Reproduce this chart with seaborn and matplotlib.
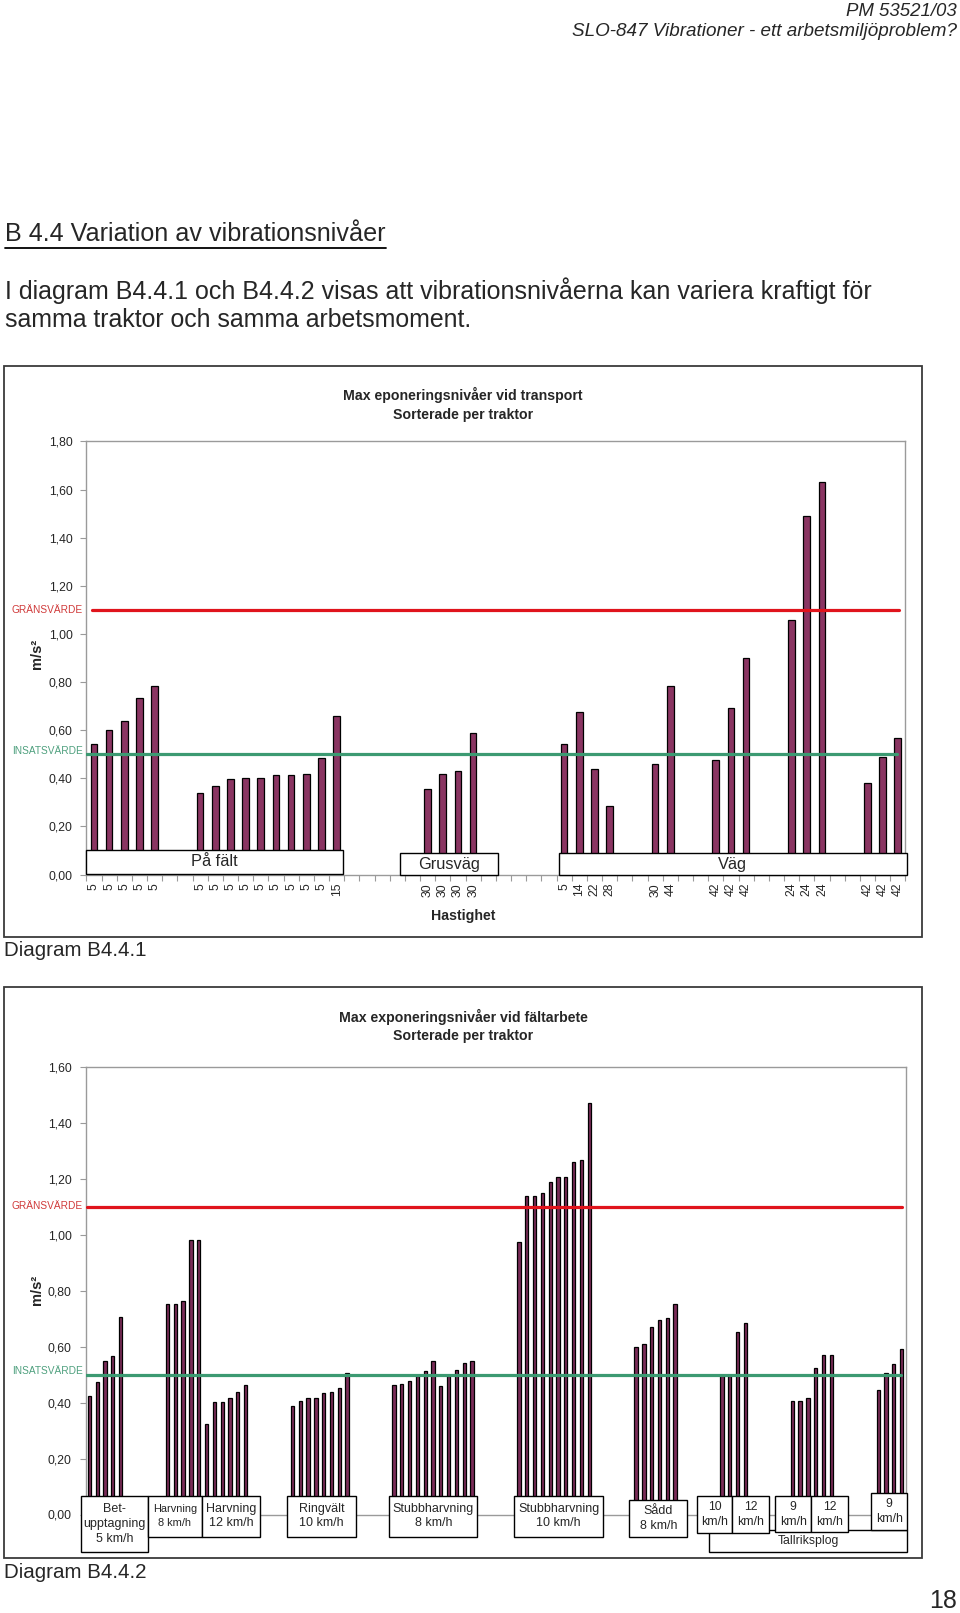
import numpy as np
import pandas as pd
import matplotlib
matplotlib.use("Agg")
import matplotlib.pyplot as plt
import seaborn as sns
from matplotlib.patches import Rectangle
from matplotlib.lines import Line2D
from matplotlib.ticker import FuncFormatter, FixedLocator
from matplotlib import font_manager

# ---------------- data ----------------
# Diagram B4.4.1 (transport)
c1_speeds = [5, 5, 5, 5, 5,
             5, 5, 5, 5, 5, 5, 5, 5, 5, 15,
             30, 30, 30, 30,
             5, 14, 22, 28,
             30, 44,
             42, 42, 42,
             24, 24, 24,
             42, 42, 42]
c1_values = [0.544, 0.602, 0.638, 0.735, 0.784,
             0.338, 0.368, 0.399, 0.403, 0.403, 0.412, 0.412, 0.418, 0.485, 0.661,
             0.356, 0.418, 0.431, 0.589,
             0.544, 0.675, 0.440, 0.286,
             0.460, 0.784,
             0.476, 0.692, 0.900,
             1.059, 1.490, 1.630,
             0.380, 0.489, 0.569]
c1_group_sizes = [5, 10, 4, 4, 2, 3, 3, 3]
c1_gaps_before = [0, 2, 5, 5, 2, 2, 2, 2]
c1_yticks = [0.0, 0.2, 0.4, 0.6, 0.8, 1.0, 1.2, 1.4, 1.6, 1.8]

# Diagram B4.4.2 (field work)
c2_values = [0.425, 0.474, 0.549, 0.568, 0.706,
             0.752, 0.752, 0.763, 0.981, 0.981,
             0.323, 0.402, 0.402, 0.418, 0.439, 0.462,
             0.389, 0.406, 0.418, 0.418, 0.433, 0.439, 0.451, 0.505,
             0.462, 0.467, 0.479, 0.495, 0.512, 0.549, 0.460, 0.495, 0.518, 0.543, 0.549,
             0.974, 1.139, 1.139, 1.151, 1.189, 1.206, 1.206, 1.262, 1.269, 1.473,
             0.598, 0.610, 0.670, 0.694, 0.701, 0.751,
             0.495, 0.495,
             0.654, 0.685,
             0.406, 0.406, 0.418,
             0.525, 0.570, 0.570,
             0.445, 0.507, 0.538, 0.593]
c2_group_sizes = [5, 5, 6, 8, 11, 10, 6, 2, 2, 3, 3, 4]
c2_gaps_before = [0, 5, 0, 5, 5, 5, 5, 5, 0, 5, 0, 5]
c2_yticks = [0.0, 0.2, 0.4, 0.6, 0.8, 1.0, 1.2, 1.4, 1.6]

granssvarde = 1.10
insatsvarde = 0.50

c1_box_labels = ["På fält", "Grusväg", "Väg"]
c2_box_labels = ["Bet-\nupptagning\n5 km/h", "Harvning\n8 km/h", "Harvning\n12 km/h",
                 "Ringvält\n10 km/h", "Stubbharvning\n8 km/h", "Stubbharvning\n10 km/h",
                 "Sådd\n8 km/h", "10\nkm/h", "12\nkm/h", "9\nkm/h", "12\nkm/h", "9\nkm/h"]

# ---------------- style ----------------
sns.set_theme(style="white")
plt.rcParams["font.family"] = ["Liberation Sans", "DejaVu Sans"]

installed = {f.name for f in font_manager.fontManager.ttflist}
DOC_FONT = ["Liberation Sans Narrow", "Liberation Sans", "DejaVu Sans"] \
    if "Liberation Sans Narrow" in installed else ["Liberation Sans", "DejaVu Sans"]

BAR1 = "#8a3562"
BAR2 = "#7a2c58"
RED = "#e0141c"
GREEN = "#3c9a72"
GRID = "#9a9a9a"

W, H = 960, 1613
fig = plt.figure(figsize=(9.6, 16.13), dpi=100)
fig.patch.set_facecolor("white")


def fx(px):
    return px / W


def fy(py):
    return 1 - py / H


def ax_rect(l, t, r, b):
    return [l / W, 1 - b / H, (r - l) / W, (b - t) / H]


def slots(sizes, gaps):
    pos, cur = [], 0
    for s, g in zip(sizes, gaps):
        cur += g
        pos.extend(range(cur, cur + s))
        cur += s
    return pos, cur


renderer = fig.canvas.get_renderer()


def fit_text(x, y, s, target_w, ha="left", **kw):
    t = fig.text(fx(x), fy(y), s, ha=ha, va="center", fontsize=10, family=DOC_FONT, **kw)
    w = t.get_window_extent(renderer).width
    t.set_fontsize(10 * target_w / w)
    return t


def box(x0, x1, y0, y1, lw=1.0):
    fig.patches.append(Rectangle((fx(x0), fy(y1)), fx(x1) - fx(x0), (y1 - y0) / H,
                                 transform=fig.transFigure, facecolor="white",
                                 edgecolor="black", linewidth=lw, zorder=2))


def frame(x0, x1, y0, y1):
    fig.patches.append(Rectangle((fx(x0), fy(y1)), fx(x1) - fx(x0), (y1 - y0) / H,
                                 transform=fig.transFigure, facecolor="none",
                                 edgecolor="#3a3a3a", linewidth=1.3, zorder=0.5))


comma = FuncFormatter(lambda v, p: f"{v:.2f}".replace(".", ","))

# ---------------- page text ----------------
fit_text(957, 11, "PM 53521/03", 111, ha="right", style="italic")
fit_text(957, 32, "SLO-847 Vibrationer - ett arbetsmiljöproblem?", 385, ha="right", style="italic")
hd = fit_text(5, 234, "B 4.4 Variation av vibrationsnivåer", 381)
bb = hd.get_window_extent(renderer)
fig.lines.append(Line2D([bb.x0 / W, bb.x1 / W], [fy(248), fy(248)], transform=fig.transFigure,
                        color="black", lw=1.3))
fit_text(5, 291, "I diagram B4.4.1 och B4.4.2 visas att vibrationsnivåerna kan variera kraftigt för", 873)
fit_text(5, 320, "samma traktor och samma arbetsmoment.", 470)
fig.text(fx(4), fy(951), "Diagram B4.4.1", fontsize=14.8, ha="left", va="center")
fig.text(fx(4), fy(1572), "Diagram B4.4.2", fontsize=14.8, ha="left", va="center")
fig.text(fx(957), fy(1601), "18", fontsize=18, ha="right", va="center")

TICK_FS = 8.8

# ---------------- chart 1 ----------------
frame(4, 922, 366, 937)
ax1 = fig.add_axes(ax_rect(86.4, 441.4, 905.4, 874.6))
pos1, n1 = slots(c1_group_sizes, c1_gaps_before)
df1 = pd.DataFrame({"pos": pos1, "value": c1_values})
sns.barplot(data=df1, x="pos", y="value", native_scale=True, width=0.44, color=BAR1,
            saturation=1, edgecolor="black", linewidth=0.9, errorbar=None, ax=ax1)
ax1.set_xlim(-0.5, n1 - 0.5)
ax1.set_ylim(0, 1.8)
ax1.set_yticks(c1_yticks)
ax1.yaxis.set_major_formatter(comma)
ax1.set_xticks(pos1)
ax1.set_xticklabels([str(s) for s in c1_speeds], rotation=90, fontsize=TICK_FS)
ax1.xaxis.set_minor_locator(FixedLocator(np.arange(-0.5, n1, 1.0)))
ax1.tick_params(axis="x", which="major", bottom=True, length=0, pad=6)
ax1.tick_params(axis="x", which="minor", bottom=True, length=4, width=0.8, color=GRID, direction="out")
ax1.tick_params(axis="y", left=True, length=4, width=0.8, color=GRID, direction="out",
                labelsize=TICK_FS, pad=6)
ax1.set_xlabel("")
ax1.set_ylabel("")
for sp in ax1.spines.values():
    sp.set_color(GRID)
    sp.set_linewidth(1.0)
ax1.axhline(granssvarde, xmin=0.007, xmax=0.992, color=RED, lw=2.3, zorder=5)
ax1.axhline(insatsvarde, xmin=0.0, xmax=0.990, color=GREEN, lw=2.3, zorder=5)

fig.text(fx(463), fy(395), "Max eponeringsnivåer vid transport", fontsize=10.2, fontweight="bold",
         ha="center", va="center")
fig.text(fx(463), fy(414.5), "Sorterade per traktor", fontsize=10.2, fontweight="bold",
         ha="center", va="center")
fig.text(fx(463), fy(916), "Hastighet", fontsize=10.2, fontweight="bold", ha="center", va="center")
fig.text(fx(37), fy(654), "m/s²", fontsize=10.5, fontweight="bold", rotation=90,
         ha="center", va="center")
fig.text(fx(83), fy(610), "GRÄNSVÄRDE", fontsize=7.3, color="#d03a3a", ha="right", va="center")
fig.text(fx(83), fy(751), "INSATSVÄRDE", fontsize=7.3, color="#4fa07e", ha="right", va="center")

c1_boxes = [(86.4, 342.6, 850, 873.5, 861), (400, 498, 853, 874.6, 864), (558.7, 906.5, 853, 874.6, 864)]
for (x0, x1, y0, y1, ty), lab in zip(c1_boxes, c1_box_labels):
    box(x0, x1, y0, y1)
    fig.text(fx((x0 + x1) / 2), fy(ty), lab, fontsize=11.8, ha="center", va="center", zorder=4)

# ---------------- chart 2 ----------------
frame(4, 922, 987, 1558)
ax2 = fig.add_axes(ax_rect(85.5, 1067, 905.5, 1514.5))
pos2, n2 = slots(c2_group_sizes, c2_gaps_before)
df2 = pd.DataFrame({"pos": pos2, "value": c2_values})
sns.barplot(data=df2, x="pos", y="value", native_scale=True, width=0.42, color=BAR2,
            saturation=1, edgecolor="black", linewidth=0.9, errorbar=None, ax=ax2)
ax2.set_xlim(-0.5, n2 - 0.5)
ax2.set_ylim(0, 1.6)
ax2.set_yticks(c2_yticks)
ax2.yaxis.set_major_formatter(comma)
ax2.set_xticks([])
ax2.tick_params(axis="y", left=True, length=4, width=0.8, color=GRID, direction="out",
                labelsize=TICK_FS, pad=6)
ax2.set_xlabel("")
ax2.set_ylabel("")
for sp in ax2.spines.values():
    sp.set_color(GRID)
    sp.set_linewidth(1.0)
ax2.axhline(granssvarde, xmin=0.002, xmax=0.996, color=RED, lw=2.3, zorder=5)
ax2.axhline(insatsvarde, xmin=0.0, xmax=0.995, color=GREEN, lw=2.3, zorder=5)

fig.text(fx(463), fy(1016.5), "Max exponeringsnivåer vid fältarbete", fontsize=10.2, fontweight="bold",
         ha="center", va="center")
fig.text(fx(463), fy(1036), "Sorterade per traktor", fontsize=10.2, fontweight="bold",
         ha="center", va="center")
fig.text(fx(37), fy(1290), "m/s²", fontsize=10.5, fontweight="bold", rotation=90,
         ha="center", va="center")
fig.text(fx(83), fy(1206), "GRÄNSVÄRDE", fontsize=7.3, color="#d03a3a", ha="right", va="center")
fig.text(fx(83), fy(1370.5), "INSATSVÄRDE", fontsize=7.3, color="#4fa07e", ha="right", va="center")

# Tallriksplog bracket box (behind the small boxes)
box(709, 906.7, 1530, 1552.3)
fig.text(fx(808), fy(1541), "Tallriksplog", fontsize=8.8, ha="center", va="center", zorder=4)

c2_boxes = [
    (81, 148.3, 1495.7, 1551.7, [1508.5, 1524, 1539], 9.0),
    (148.3, 201.7, 1495.7, 1537.3, [1509, 1523.5], 7.9),
    (201.7, 260, 1495.7, 1537.3, [1509, 1523.5], 9.0),
    (287.3, 355.7, 1495.7, 1537.3, [1509, 1523.5], 9.0),
    (389.3, 477.3, 1495.7, 1537.3, [1509, 1523.5], 9.0),
    (514, 603.3, 1495.7, 1537.3, [1509, 1523.5], 9.0),
    (629.3, 687.3, 1500.3, 1537.3, [1511, 1526.3], 9.0),
    (696.7, 732.3, 1495.7, 1533.3, [1506.7, 1521.7], 8.8),
    (732.3, 769, 1495.7, 1533.3, [1506.7, 1521.7], 8.8),
    (775.3, 811.3, 1495.7, 1532.3, [1506.7, 1521.7], 8.8),
    (811.3, 847.7, 1495.7, 1532.3, [1506.7, 1521.7], 8.8),
    (871, 907.3, 1493.3, 1530, [1504.3, 1519.3], 8.8),
]
for (x0, x1, y0, y1, tys, fs), lab in zip(c2_boxes, c2_box_labels):
    box(x0, x1, y0, y1)
    for ty, line in zip(tys, lab.split("\n")):
        fig.text(fx((x0 + x1) / 2), fy(ty), line, fontsize=fs, ha="center", va="center", zorder=4)

fig.savefig("out.png", dpi=100, facecolor="white")
